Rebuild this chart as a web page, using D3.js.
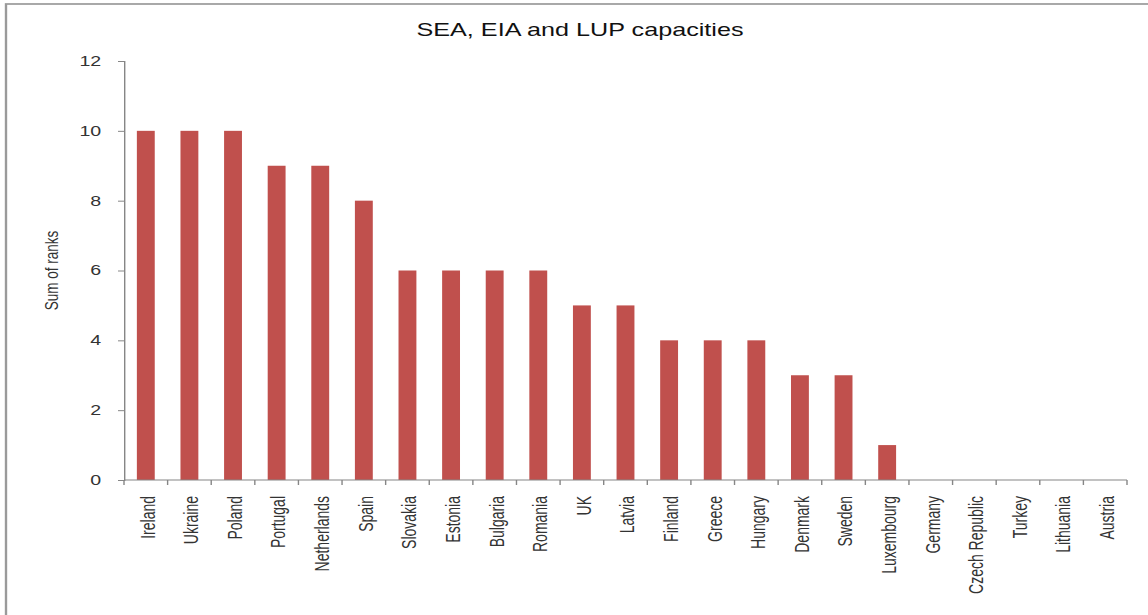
<!DOCTYPE html>
<html>
<head>
<meta charset="utf-8">
<script src="https://cdn.jsdelivr.net/npm/d3@7/dist/d3.min.js"></script>
<style>
    html, body { margin: 0; padding: 0; background: #fff; }
    svg { display: block; }
    text { font-family: "Liberation Sans", Arial, sans-serif; }
</style>
</head>
<body>
<svg id="chart"></svg>
<script>
const countries = ['Ireland', 'Ukraine', 'Poland', 'Portugal', 'Netherlands', 'Spain', 'Slovakia',
    'Estonia', 'Bulgaria', 'Romania', 'UK', 'Latvia', 'Finland', 'Greece', 'Hungary', 'Denmark',
    'Sweden', 'Luxembourg', 'Germany', 'Czech Republic', 'Turkey', 'Lithuania', 'Austria'];
const sumOfRanks = [10, 10, 10, 9, 9, 8, 6, 6, 6, 6, 5, 5, 4, 4, 4, 3, 3, 1, 0, 0, 0, 0, 0];
const yTicks = [0, 2, 4, 6, 8, 10, 12];
const chartTitle = 'SEA, EIA and LUP capacities';
const yLabel = 'Sum of ranks';

// the source picture is stretched sideways, so draw in a narrower box and let it stretch
const pageW = 1148;
const pageH = 615;
const stretch = 1.4;
const W = pageW / stretch;
const H = pageH;

const svg = d3.select('#chart')
    .attr('width', pageW)
    .attr('height', pageH)
    .attr('viewBox', `0 0 ${W} ${H}`)
    .attr('preserveAspectRatio', 'none');

const plot = { left: 124 / stretch, right: 1127 / stretch, top: 61, bottom: 480 };

// outer frame (runs off the right and bottom edge)
svg.append('rect')
    .attr('x', 6 / stretch)
    .attr('y', 4)
    .attr('width', W + 20)
    .attr('height', H + 20)
    .attr('fill', 'none')
    .attr('stroke', '#9a9a9a')
    .attr('stroke-width', 1.7);

svg.append('text')
    .attr('x', 580 / stretch)
    .attr('y', 36)
    .attr('text-anchor', 'middle')
    .attr('font-size', 18)
    .attr('fill', '#111')
    .text(chartTitle);

const x = d3.scaleBand()
    .domain(countries)
    .range([plot.left, plot.right])
    .paddingInner(0.59)
    .paddingOuter(0.295);

const y = d3.scaleLinear()
    .domain([0, 12])
    .range([plot.bottom, plot.top]);

// bars
svg.append('g')
    .selectAll('rect')
    .data(countries)
    .enter()
    .append('rect')
    .attr('x', d => x(d))
    .attr('width', x.bandwidth())
    .attr('y', (d, i) => y(sumOfRanks[i]))
    .attr('height', (d, i) => y(0) - y(sumOfRanks[i]))
    .attr('fill', '#c0504d');

// y axis
const yAxis = svg.append('g')
    .attr('transform', `translate(${plot.left},0)`)
    .call(d3.axisLeft(y).tickValues(yTicks).tickSize(6 / stretch).tickPadding(12));
yAxis.select('.domain').attr('stroke', '#868686').attr('stroke-width', 1);
yAxis.selectAll('.tick line').attr('stroke', '#868686');
yAxis.selectAll('.tick text')
    .attr('font-size', 14)
    .attr('font-family', '"Liberation Sans", Arial, sans-serif')
    .attr('fill', '#333');

// x axis: line, boundary ticks between categories, rotated labels
const xAxis = svg.append('g').attr('transform', `translate(0,${plot.bottom})`);
xAxis.append('line')
    .attr('x1', plot.left)
    .attr('x2', plot.right)
    .attr('stroke', '#868686');
xAxis.selectAll('line.bound')
    .data(d3.range(countries.length + 1))
    .enter()
    .append('line')
    .attr('class', 'bound')
    .attr('x1', i => plot.left + i * x.step())
    .attr('x2', i => plot.left + i * x.step())
    .attr('y1', 0)
    .attr('y2', 5)
    .attr('stroke', '#868686');
xAxis.selectAll('text')
    .data(countries)
    .enter()
    .append('text')
    .attr('transform', d => `translate(${x(d) + x.bandwidth() / 2},16) rotate(-90)`)
    .attr('text-anchor', 'end')
    .attr('dy', '0.45em')
    .attr('font-size', 14)
    .attr('fill', '#333')
    .text(d => d);

// y axis title
svg.append('text')
    .attr('transform', `translate(${51 / stretch},${(plot.top + plot.bottom) / 2}) rotate(-90)`)
    .attr('text-anchor', 'middle')
    .attr('dy', '0.35em')
    .attr('font-size', 13.5)
    .attr('fill', '#333')
    .text(yLabel);
</script>
</body>
</html>
